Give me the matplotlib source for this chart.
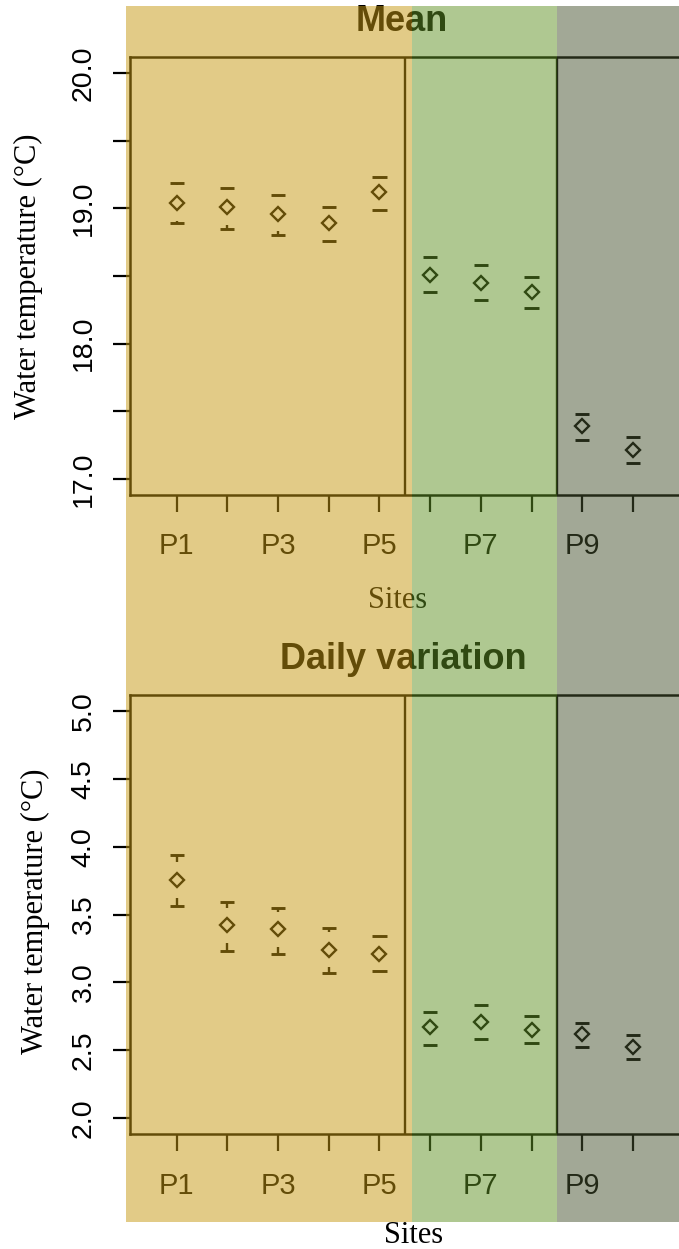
import numpy as np
import matplotlib
matplotlib.use("Agg")
import matplotlib.pyplot as plt
import matplotlib.transforms as mtransforms
from matplotlib.patches import Rectangle

W, H = 679, 1249

sites = ["P1", "P2", "P3", "P4", "P5", "P6", "P7", "P8", "P9", "P10"]

# mean water temperature with upper / lower interval
mean_val = [19.04, 19.01, 18.96, 18.89, 19.12, 18.51, 18.45, 18.38, 17.39, 17.21]
mean_up = [19.19, 19.15, 19.10, 19.01, 19.23, 18.64, 18.58, 18.49, 17.48, 17.31]
mean_lo = [18.89, 18.85, 18.80, 18.76, 18.99, 18.38, 18.32, 18.26, 17.29, 17.12]

# daily variation
var_val = [3.755, 3.42, 3.39, 3.24, 3.21, 2.67, 2.71, 2.65, 2.62, 2.52]
var_up = [3.94, 3.59, 3.55, 3.40, 3.34, 2.78, 2.83, 2.75, 2.70, 2.61]
var_lo = [3.56, 3.23, 3.21, 3.07, 3.08, 2.54, 2.58, 2.55, 2.52, 2.43]

group_breaks = [5.5, 8.5]
bands = [(0.0, 5.65, (199, 153, 17)), (5.65, 8.5, (97, 147, 37)), (8.5, 11.6, (71, 83, 47))]

SANS = "Liberation Sans"
SERIF = "Liberation Serif"


def px_box(left, top, right, bottom):
    return [left / W, 1 - bottom / H, (right - left) / W, (bottom - top) / H]


def panel(ax, val, up, lo, yticks, ylabels, ylim, title, title_xy, xlab_xy, ylab_xy):
    x = np.arange(1, len(sites) + 1)
    val, up, lo = np.array(val), np.array(up), np.array(lo)
    gap = 0.13
    ax.hlines(up, x - 0.14, x + 0.14, color="black", lw=2.1)
    ax.hlines(lo, x - 0.14, x + 0.14, color="black", lw=2.1)
    for xi, v, u, l in zip(x, val, up, lo):
        if u - v > gap:
            ax.vlines(xi, v + gap, u, color="black", lw=1.7)
        if v - l > gap:
            ax.vlines(xi, l, v - gap, color="black", lw=1.7)
    ax.plot(x, val, "D", ms=7, mfc="none", mec="black", mew=1.7)
    for b in group_breaks:
        ax.axvline(b, color="black", lw=1.7)
    ax.set_xlim(0.08, 11.42)
    ax.set_ylim(*ylim)
    ax.set_xticks(x)
    ax.set_xticklabels([s if i % 2 == 0 else "" for i, s in enumerate(sites)],
                       fontsize=21, family=SANS)
    ax.set_yticks(yticks)
    ax.set_yticklabels(ylabels, fontsize=20.5, family=SANS, rotation=90, va="center")
    ax.tick_params(axis="both", direction="out", length=12, width=1.6, color="black")
    ax.tick_params(axis="x", pad=15)
    ax.tick_params(axis="y", pad=12)
    for sp in ax.spines.values():
        sp.set_linewidth(1.8)
    ax.set_facecolor("white")
    ax.set_title(title, fontsize=26, fontweight="bold", family=SANS,
                 x=title_xy[0], y=title_xy[1], va="center", pad=0)
    ax.set_xlabel("Sites", fontsize=22, family=SERIF)
    ax.xaxis.set_label_coords(*xlab_xy)
    ax.xaxis.label.set_va("center")
    ax.set_ylabel("Water temperature (\u00b0C)", fontsize=22, family=SERIF, va="center")
    ax.yaxis.set_label_coords(*ylab_xy)


fig = plt.figure(figsize=(W / 100, H / 100), dpi=100)
ax1 = fig.add_axes(px_box(130, 57, 705, 495))
ax2 = fig.add_axes(px_box(130, 695, 705, 1134))

panel(ax1, mean_val, mean_up, mean_lo,
      [17.0, 17.5, 18.0, 18.5, 19.0, 19.5, 20.0],
      ["17.0", "", "18.0", "", "19.0", "", "20.0"],
      (16.88, 20.12), "Mean", (0.472, 1.082), (0.466, -0.24), (-0.1765, 0.5))
panel(ax2, var_val, var_up, var_lo,
      [2.0, 2.5, 3.0, 3.5, 4.0, 4.5, 5.0],
      ["2.0", "2.5", "3.0", "3.5", "4.0", "4.5", "5.0"],
      (1.88, 5.12), "Daily variation", (0.475, 1.082), (0.494, -0.232), (-0.164, 0.507))

# coloured site-group overlays across the whole figure height
trans = mtransforms.blended_transform_factory(ax1.transData, fig.transFigure)
y0, y1 = 1 - 1222 / H, 1 - 6 / H
for xa, xb, rgb in bands:
    fig.add_artist(Rectangle((xa, y0), xb - xa, y1 - y0, transform=trans,
                             facecolor=np.array(rgb) / 255, alpha=0.5,
                             edgecolor="none", zorder=10, clip_on=False))

fig.savefig("out.png", dpi=100)
